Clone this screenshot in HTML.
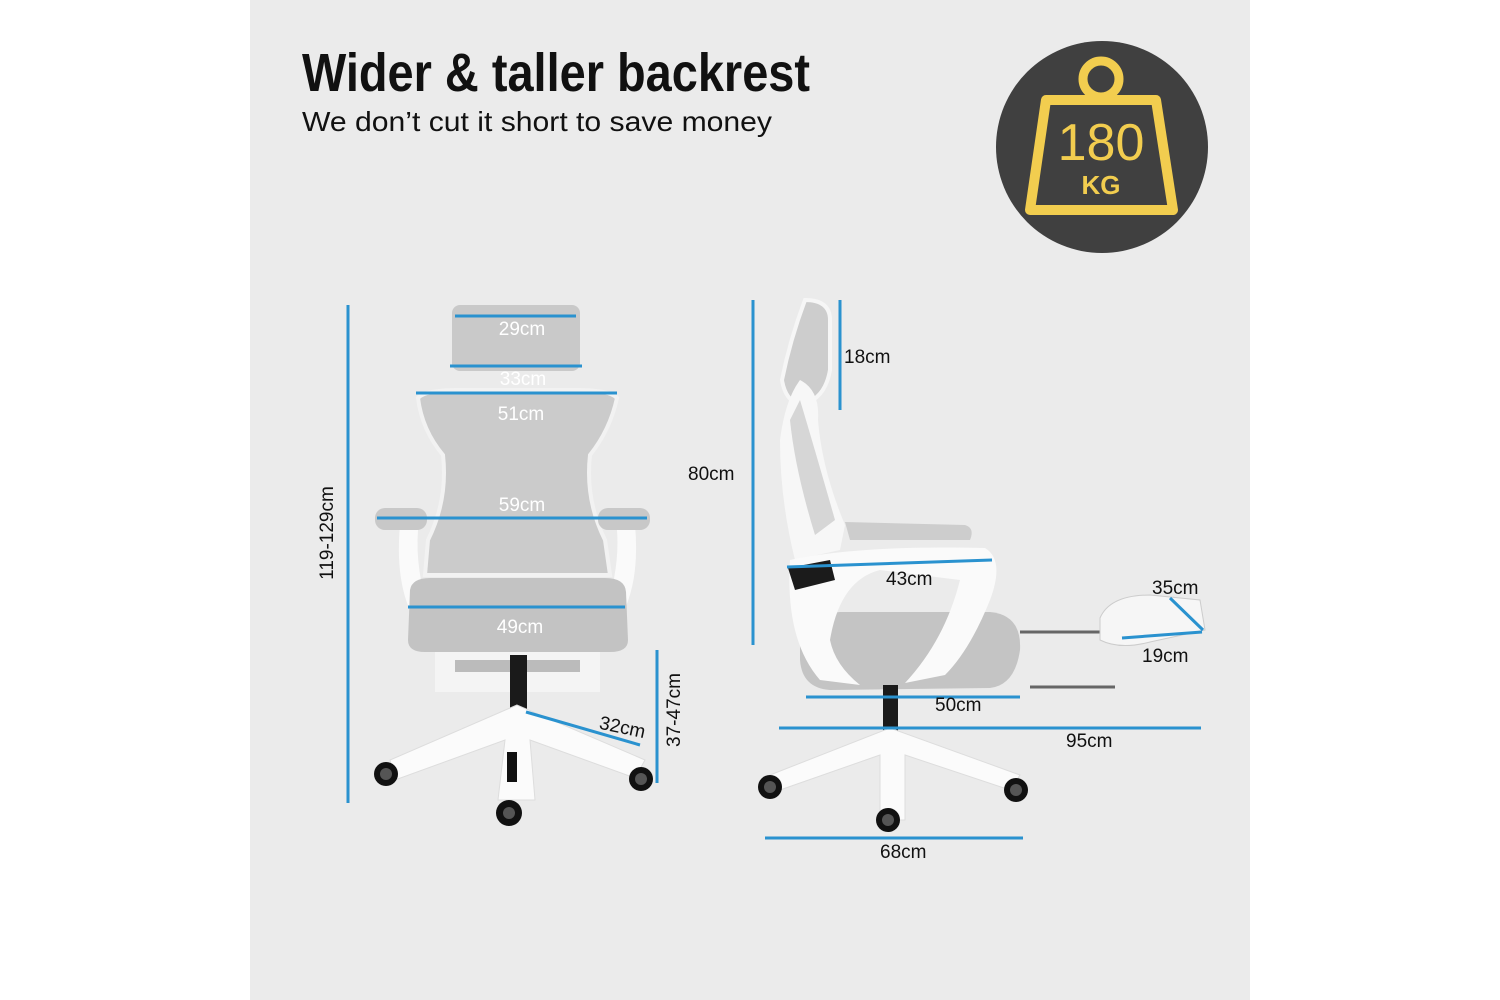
<!DOCTYPE html>
<html><head><meta charset="utf-8"><style>
html,body{margin:0;padding:0;background:#fff;}
svg{display:block}
text{font-family:"Liberation Sans",sans-serif;}
</style></head><body>
<svg width="1500" height="1000" viewBox="0 0 1500 1000" xmlns="http://www.w3.org/2000/svg">
<rect x="0" y="0" width="1500" height="1000" fill="#fff"/>
<rect x="250" y="0" width="1000" height="1000" fill="#ebebeb"/>
<text x="302" y="91" font-size="54" font-weight="bold" fill="#111" textLength="508" lengthAdjust="spacingAndGlyphs">Wider &amp; taller backrest</text>
<text x="302" y="131" font-size="28" fill="#111" textLength="470" lengthAdjust="spacingAndGlyphs">We don’t cut it short to save money</text>
<circle cx="1102" cy="147" r="106" fill="#404040"/>
<circle cx="1101" cy="79" r="18" fill="none" stroke="#f2cd4f" stroke-width="9"/>
<path d="M1046,100 L1156,100 L1173,210 L1030,210 Z" fill="#404040" stroke="#f2cd4f" stroke-width="10" stroke-linejoin="round"/>
<text x="1101" y="160" font-size="52" fill="#f2cd4f" text-anchor="middle">180</text>
<text x="1101" y="194" font-size="26" font-weight="bold" fill="#f2cd4f" text-anchor="middle">KG</text>
<g>
<rect x="452" y="305" width="128" height="66" rx="8" fill="#c9c9c9"/>
<path d="M418,398 Q425,390 460,390 L575,390 Q610,390 617,398 Q610,430 590,455 Q585,500 605,540 L610,575 L425,575 L428,540 Q448,500 443,455 Q422,430 418,398 Z" fill="#cbcbcb" stroke="#f2f2f2" stroke-width="4"/>
<path d="M400,525 Q395,580 412,615 L430,615 Q415,570 418,530 Z" fill="#fafafa"/>
<path d="M635,525 Q640,580 622,615 L604,615 Q620,570 617,530 Z" fill="#fafafa"/>
<rect x="375" y="508" width="52" height="22" rx="10" fill="#c8c8c8"/>
<rect x="598" y="508" width="52" height="22" rx="10" fill="#c8c8c8"/>
<path d="M410,590 Q412,578 430,578 L605,578 Q625,578 626,592 L628,640 Q628,652 610,652 L425,652 Q408,652 408,640 Z" fill="#c3c3c3"/>
<rect x="435" y="652" width="165" height="40" fill="#f4f4f4"/>
<rect x="455" y="660" width="125" height="12" fill="#bbb"/>
<rect x="510" y="655" width="17" height="60" fill="#1a1a1a"/>
<path d="M517,705 L390,760 L395,780 L505,740 L498,800 L535,800 L530,740 L635,778 L645,760 Z" fill="#fbfbfb" stroke="#ddd" stroke-width="1"/>
<circle cx="386" cy="774" r="12" fill="#111"/><circle cx="386" cy="774" r="6" fill="#555"/>
<circle cx="641" cy="779" r="12" fill="#111"/><circle cx="641" cy="779" r="6" fill="#555"/>
<circle cx="509" cy="813" r="13" fill="#111"/><circle cx="509" cy="813" r="6" fill="#555"/>
<rect x="507" y="752" width="10" height="30" fill="#111"/>
</g>
<g>
<path d="M805,300 Q830,300 830,320 L830,370 Q825,400 800,405 Q785,400 782,380 Q790,340 805,300 Z" fill="#cdcdcd" stroke="#f6f6f6" stroke-width="4"/>
<path d="M800,380 Q820,390 818,420 Q822,470 845,525 L840,550 L795,560 Q780,500 780,440 Q785,400 800,380 Z" fill="#f7f7f7"/>
<path d="M800,400 Q815,450 835,520 L815,535 Q795,470 790,420 Z" fill="#d6d6d6"/>
<path d="M845,522 L965,525 Q975,528 970,540 L850,540 Z" fill="#cdcdcd"/>
<path d="M800,645 Q800,615 840,612 L990,612 Q1022,615 1020,650 Q1015,685 990,688 L830,690 Q802,688 800,660 Z" fill="#c4c4c4"/>
<path d="M790,560 Q860,545 985,548 Q1005,560 990,600 Q970,650 945,675 L905,683 Q945,640 960,580 L880,570 Q840,580 830,640 Q835,665 860,685 L820,680 Q785,640 790,560 Z" fill="#fafafa"/>
<path d="M788,568 L830,560 L835,580 L795,590 Z" fill="#1b1b1b"/>
<path d="M1020,632 L1110,632 M1030,687 L1115,687" stroke="#666" stroke-width="3"/>
<path d="M1100,618 Q1110,595 1150,595 L1200,600 L1205,630 L1150,642 Q1120,650 1100,640 Z" fill="#f6f6f6" stroke="#ccc"/>
<rect x="883" y="685" width="15" height="50" fill="#1a1a1a"/>
<path d="M890,728 L770,775 L780,790 L880,755 L880,820 L905,820 L905,755 L1010,790 L1020,775 Z" fill="#fbfbfb" stroke="#ddd"/>
<circle cx="770" cy="787" r="12" fill="#111"/><circle cx="770" cy="787" r="6" fill="#555"/>
<circle cx="1016" cy="790" r="12" fill="#111"/><circle cx="1016" cy="790" r="6" fill="#555"/>
<circle cx="888" cy="820" r="12" fill="#111"/><circle cx="888" cy="820" r="6" fill="#555"/>
</g>
<g stroke="#2a92cf" stroke-width="3" fill="none">
<line x1="455" y1="316" x2="576" y2="316"/>
<line x1="450" y1="366" x2="582" y2="366"/>
<line x1="416" y1="393" x2="617" y2="393"/>
<line x1="377" y1="518" x2="647" y2="518"/>
<line x1="408" y1="607" x2="625" y2="607"/>
<line x1="526" y1="712" x2="640" y2="745"/>
<line x1="348" y1="305" x2="348" y2="803"/>
<line x1="657" y1="650" x2="657" y2="783"/>
<line x1="753" y1="300" x2="753" y2="645"/>
<line x1="840" y1="300" x2="840" y2="410"/>
<line x1="787" y1="567" x2="992" y2="560"/>
<line x1="1170" y1="598" x2="1203" y2="630"/>
<line x1="1122" y1="638" x2="1202" y2="632"/>
<line x1="806" y1="697" x2="1020" y2="697"/>
<line x1="779" y1="728" x2="1201" y2="728"/>
<line x1="765" y1="838" x2="1023" y2="838"/>
</g>
<g font-size="19" fill="#fff" text-anchor="middle">
<text x="522" y="335">29cm</text>
<text x="523" y="385">33cm</text>
<text x="521" y="420">51cm</text>
<text x="522" y="511">59cm</text>
<text x="520" y="633">49cm</text>
</g>
<g font-size="19" fill="#111">
<text x="599" y="733" transform="rotate(12 620 728)">32cm</text>
<text x="844" y="363">18cm</text>
<text x="688" y="480">80cm</text>
<text x="886" y="585">43cm</text>
<text x="1152" y="594">35cm</text>
<text x="1142" y="662">19cm</text>
<text x="935" y="711">50cm</text>
<text x="1066" y="747">95cm</text>
<text x="880" y="858">68cm</text>
<text transform="translate(333,533) rotate(-90)" text-anchor="middle">119-129cm</text>
<text transform="translate(680,710) rotate(-90)" text-anchor="middle">37-47cm</text>
</g>
</svg>
</body></html>
